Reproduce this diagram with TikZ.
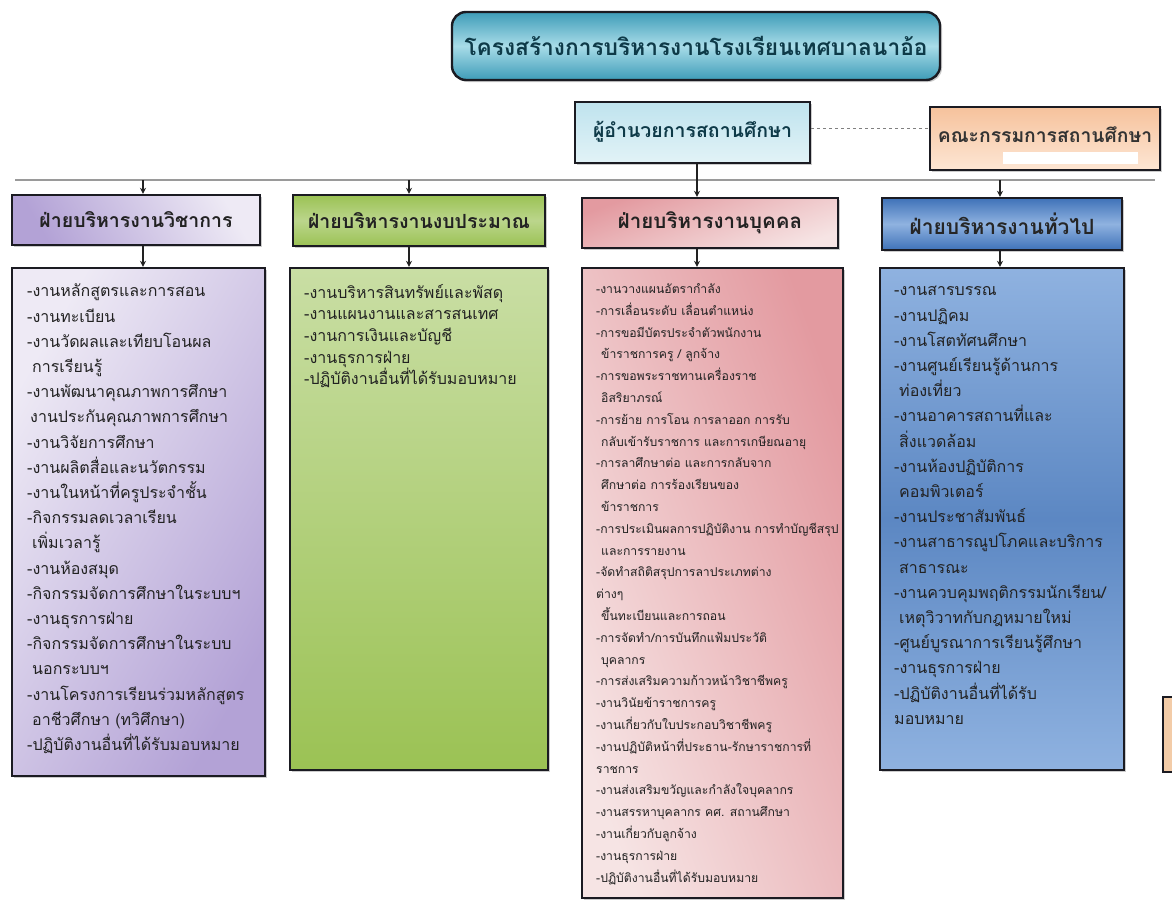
\documentclass[tikz,border=0pt]{standalone}
\usepackage{fontspec}
\newfontfamily\thaifont[Script=Thai]{Loma}
\usetikzlibrary{arrows.meta,shadows,calc}
\definecolor{boxline}{HTML}{1B1B22}
\definecolor{linecol}{HTML}{222222}
\definecolor{buscol}{HTML}{9A9A9A}
\definecolor{txt}{HTML}{222222}
\definecolor{titleA}{HTML}{3E9CB8}
\definecolor{titleB}{HTML}{A8DCE8}
\definecolor{titletxt}{HTML}{0E3A48}
\definecolor{dirA}{HTML}{BFE3EE}
\definecolor{dirB}{HTML}{E2F3F7}
\definecolor{comA}{HTML}{F6C29C}
\definecolor{comB}{HTML}{FDE6D4}
\definecolor{purA}{HTML}{B3A2D6}
\definecolor{purB}{HTML}{EEEAF5}
\definecolor{grnA}{HTML}{9BC254}
\definecolor{grnB}{HTML}{C9DEA4}
\definecolor{pnkA}{HTML}{E39AA0}
\definecolor{pnkB}{HTML}{F6E4E4}
\definecolor{bluA}{HTML}{3F72B8}
\definecolor{bluB}{HTML}{8FB2E0}
\definecolor{orgA}{HTML}{F3CCA8}
\tikzset{
  box/.style={draw=boxline, line width=2.4pt, rectangle, inner sep=0pt,
    drop shadow={shadow xshift=2pt,shadow yshift=-2pt,opacity=0.4}},
  headbox/.style={box, text=txt, font=\thaifont\bfseries\fontsize{19.5}{22}\selectfont},
  listtxt/.style={anchor=north west, align=left, inner sep=0pt, text=txt},
  conn/.style={draw=linecol, line width=1.1pt, -{Stealth[length=6pt,width=6pt]}},
  busline/.style={draw=buscol, line width=1.6pt},
  dashline/.style={draw=gray, line width=0.8pt, dashed}
}
\begin{document}
\begin{tikzpicture}[x=1pt,y=-1pt]
\useasboundingbox (0,0) rectangle (1172,900);
\fill[white] (0,0) rectangle (1172,900);

% title
\node[box, rounded corners=14pt, minimum width=488pt, minimum height=68pt,
  top color=titleA, bottom color=titleA, middle color=titleB,
  text=titletxt, font=\thaifont\bfseries\fontsize{22.7}{26}\selectfont]
  (title) at (696,46) {โครงสร้างการบริหารงานโรงเรียนเทศบาลนาอ้อ};

% director and committee
\node[box, minimum width=235pt, minimum height=61pt, top color=dirA, bottom color=dirB,
  text=titletxt, font=\thaifont\bfseries\fontsize{19.5}{22}\selectfont]
  (dir) at (692.5,132.5) {\raisebox{7pt}{ผู้อำนวยการสถานศึกษา}};
\node[box, minimum width=230pt, minimum height=63pt, top color=comA, bottom color=comB,
  text=black!80, font=\thaifont\bfseries\fontsize{19.3}{22}\selectfont]
  (comm) at (1045,138.5) {\raisebox{8pt}{คณะกรรมการสถานศึกษา}};
\fill[white] (1003,152) rectangle (1138,164);
\draw[dashline] ([yshift=4pt]dir.east) -- ([yshift=4pt]dir.east -| comm.west);

% partial box at right edge
\draw[draw=boxline, line width=2.4pt, fill=orgA] (1163,697) rectangle (1185,772);

% heads
\node[headbox, minimum width=248pt, minimum height=50pt,
  left color=purA, right color=purB, shading angle=120] (acadH) at (136,220) {ฝ่ายบริหารงานวิชาการ};
\node[headbox, minimum width=252pt, minimum height=51pt,
  top color=grnA, bottom color=grnA, middle color=grnB!70!grnA] (budH) at (419,220.5) {ฝ่ายบริหารงานงบประมาณ};
\node[headbox, minimum width=256pt, minimum height=50pt, font=\thaifont\bfseries\fontsize{20.5}{22}\selectfont,
  top color=pnkA, bottom color=pnkB, shading angle=20] (persH) at (710,223) {ฝ่ายบริหารงานบุคคล};
\node[headbox, minimum width=240pt, minimum height=52pt, font=\thaifont\bfseries\fontsize{21}{22}\selectfont,
  top color=bluA, bottom color=bluA, middle color=bluB, text=black!85] (genH) at (1002,224) {ฝ่ายบริหารงานทั่วไป};

% list boxes
\node[box, minimum width=253pt, minimum height=508pt,
  left color=purB, right color=purA, shading angle=60] (acadL) at (138.5,522) {};
\node[box, minimum width=258pt, minimum height=502pt,
  top color=grnB, bottom color=grnA] (budL) at (419,519) {};
\node[box, minimum width=261pt, minimum height=630pt,
  left color=pnkB, right color=pnkA, shading angle=110] (persL) at (712.5,583) {};
\node[box, minimum width=244pt, minimum height=502pt,
  top color=bluB, bottom color=bluB, middle color=bluA!85] (genL) at (1002,519) {};

% bus and connectors
\coordinate (busL) at (15,180);
\coordinate (busR) at (1155,180);
\draw[busline] (busL) -- (busR);
\draw[conn] ([xshift=4.5pt]dir.south) -- ([xshift=4.5pt]dir.south |- persH.north);
\draw[conn] ([xshift=7pt]acadH.north |- busL) -- ([xshift=7pt]acadH.north);
\draw[conn] ([xshift=-10pt]budH.north |- busL) -- ([xshift=-10pt]budH.north);
\draw[conn] ([xshift=-2pt]genH.north |- busL) -- ([xshift=-2pt]genH.north);
\draw[conn] ([xshift=7pt]acadH.south) -- ([xshift=7pt]acadH.south |- acadL.north);
\draw[conn] ([xshift=-10pt]budH.south) -- ([xshift=-10pt]budH.south |- budL.north);
\draw[conn] ([xshift=-13pt]persH.south) -- ([xshift=-13pt]persH.south |- persL.north);
\draw[conn] ([xshift=-2pt]genH.south) -- ([xshift=-2pt]genH.south |- genL.north);

% list texts
\node[listtxt, font=\thaifont\fontsize{16}{25.2}\selectfont] (acadT) at (27,279) {\strut-งานหลักสูตรและการสอน\\
-งานทะเบียน\\
-งานวัดผลและเทียบโอนผล\\
\hspace*{5pt}การเรียนรู้\\
-งานพัฒนาคุณภาพการศึกษา\\
\hspace*{3pt}งานประกันคุณภาพการศึกษา\\
-งานวิจัยการศึกษา\\
-งานผลิตสื่อและนวัตกรรม\\
-งานในหน้าที่ครูประจำชั้น\\
-กิจกรรมลดเวลาเรียน\\
\hspace*{5pt}เพิ่มเวลารู้\\
-งานห้องสมุด\\
-กิจกรรมจัดการศึกษาในระบบฯ\\
-งานธุรการฝ่าย\\
-กิจกรรมจัดการศึกษาในระบบ\\
\hspace*{5pt}นอกระบบฯ\\
-งานโครงการเรียนร่วมหลักสูตร\\
\hspace*{5pt}อาชีวศึกษา (ทวิศึกษา)\\
-ปฏิบัติงานอื่นที่ได้รับมอบหมาย};

\node[listtxt, font=\thaifont\fontsize{16}{21.6}\selectfont] (budT) at (304,283) {\strut-งานบริหารสินทรัพย์และพัสดุ\\
-งานแผนงานและสารสนเทศ\\
-งานการเงินและบัญชี\\
-งานธุรการฝ่าย\\
-ปฏิบัติงานอื่นที่ได้รับมอบหมาย};

\node[listtxt, font=\thaifont\fontsize{12.2}{21.8}\selectfont] (persT) at (596,278) {\strut-งานวางแผนอัตรากำลัง\\
-การเลื่อนระดับ เลื่อนตำแหน่ง\\
-การขอมีบัตรประจำตัวพนักงาน\\
\hspace*{5pt}ข้าราชการครู / ลูกจ้าง\\
-การขอพระราชทานเครื่องราช\\
\hspace*{5pt}อิสริยาภรณ์\\
-การย้าย การโอน การลาออก การรับ\\
\hspace*{5pt}กลับเข้ารับราชการ และการเกษียณอายุ\\
-การลาศึกษาต่อ และการกลับจาก\\
\hspace*{5pt}ศึกษาต่อ การร้องเรียนของ\\
\hspace*{5pt}ข้าราชการ\\
-การประเมินผลการปฏิบัติงาน การทำบัญชีสรุป\\
\hspace*{5pt}และการรายงาน\\
-จัดทำสถิติสรุปการลาประเภทต่าง\\
ต่างๆ\\
\hspace*{5pt}ขึ้นทะเบียนและการถอน\\
-การจัดทำ/การบันทึกแฟ้มประวัติ\\
\hspace*{5pt}บุคลากร\\
-การส่งเสริมความก้าวหน้าวิชาชีพครู\\
-งานวินัยข้าราชการครู\\
-งานเกี่ยวกับใบประกอบวิชาชีพครู\\
-งานปฏิบัติหน้าที่ประธาน-รักษาราชการที่\\
ราชการ\\
-งานส่งเสริมขวัญและกำลังใจบุคลากร\\
-งานสรรหาบุคลากร คศ. สถานศึกษา\\
-งานเกี่ยวกับลูกจ้าง\\
-งานธุรการฝ่าย\\
-ปฏิบัติงานอื่นที่ได้รับมอบหมาย};

\node[listtxt, font=\thaifont\fontsize{16}{25.2}\selectfont] (genT) at (894,278) {\strut-งานสารบรรณ\\
-งานปฏิคม\\
-งานโสตทัศนศึกษา\\
-งานศูนย์เรียนรู้ด้านการ\\
\hspace*{5pt}ท่องเที่ยว\\
-งานอาคารสถานที่และ\\
\hspace*{5pt}สิ่งแวดล้อม\\
-งานห้องปฏิบัติการ\\
\hspace*{5pt}คอมพิวเตอร์\\
-งานประชาสัมพันธ์\\
-งานสาธารณูปโภคและบริการ\\
\hspace*{5pt}สาธารณะ\\
-งานควบคุมพฤติกรรมนักเรียน/\\
\hspace*{5pt}เหตุวิวาทกับกฎหมายใหม่\\
-ศูนย์บูรณาการเรียนรู้ศึกษา\\
-งานธุรการฝ่าย\\
-ปฏิบัติงานอื่นที่ได้รับ\\
มอบหมาย};
\end{tikzpicture}
\end{document}
